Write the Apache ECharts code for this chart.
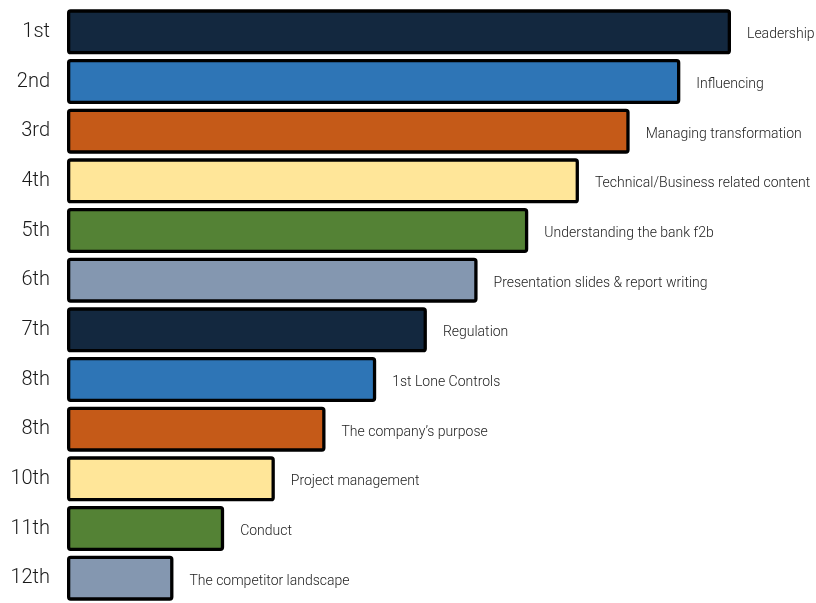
<!DOCTYPE html>
<html lang="en">
<head>
  <meta charset="UTF-8">
  <title>Skills ranking</title>
  <style>
    html, body { margin: 0; padding: 0; background: #fff; }
    #main { width: 816px; height: 603px; }
  </style>
</head>
<body>
  <div id="main"></div>
  <script src="https://cdn.jsdelivr.net/npm/echarts@6/dist/echarts.min.js"></script>
  <script>
    // data
    const ranks = ['1st', '2nd', '3rd', '4th', '5th', '6th', '7th', '8th', '8th', '10th', '11th', '12th'];
    const skills = [
      'Leadership',
      'Influencing',
      'Managing transformation',
      'Technical/Business related content',
      'Understanding the bank f2b',
      'Presentation slides & report writing',
      'Regulation',
      '1st Lone Controls',
      'The company\u2019s purpose',
      'Project management',
      'Conduct',
      'The competitor landscape'
    ];
    // bar lengths (relative score)
    const scores = [13.1, 12.1, 11.1, 10.1, 9.1, 8.1, 7.1, 6.1, 5.1, 4.1, 3.1, 2.1];

    // repeating colour cycle
    const palette = ['#13283f', '#2e75b6', '#c55a18', '#ffe699', '#548235', '#8497b0'];

    const font = 'Roboto, Liberation Sans, Arial, sans-serif';

    const chart = echarts.init(document.getElementById('main'));

    chart.setOption({
      animation: false,
      grid: { left: 67, top: 7, width: 664, height: 600, containLabel: false },
      xAxis: {
        type: 'value', min: 0, max: 13.1,
        show: false
      },
      yAxis: {
        type: 'category',
        data: ranks,
        inverse: true,
        axisLine: { show: false },
        axisTick: { show: false },
        axisLabel: {
          margin: 17,
          fontSize: 20,
          fontWeight: 300,
          color: '#1a1a1a',
          fontFamily: font,
          padding: [8, 0, 0, 0]
        }
      },
      series: [{
        type: 'bar',
        barWidth: 45,
        data: scores.map((v, i) => ({
          value: v,
          itemStyle: { color: palette[i % palette.length] }
        })),
        itemStyle: {
          borderColor: '#000',
          borderWidth: 3.3,
          borderRadius: 2
        },
        label: {
          show: true,
          position: 'right',
          distance: 16,
          offset: [0, 3],
          fontSize: 14,
          fontWeight: 300,
          color: '#222',
          fontFamily: font,
          formatter: p => skills[p.dataIndex]
        }
      }]
    });
  </script>
</body>
</html>
